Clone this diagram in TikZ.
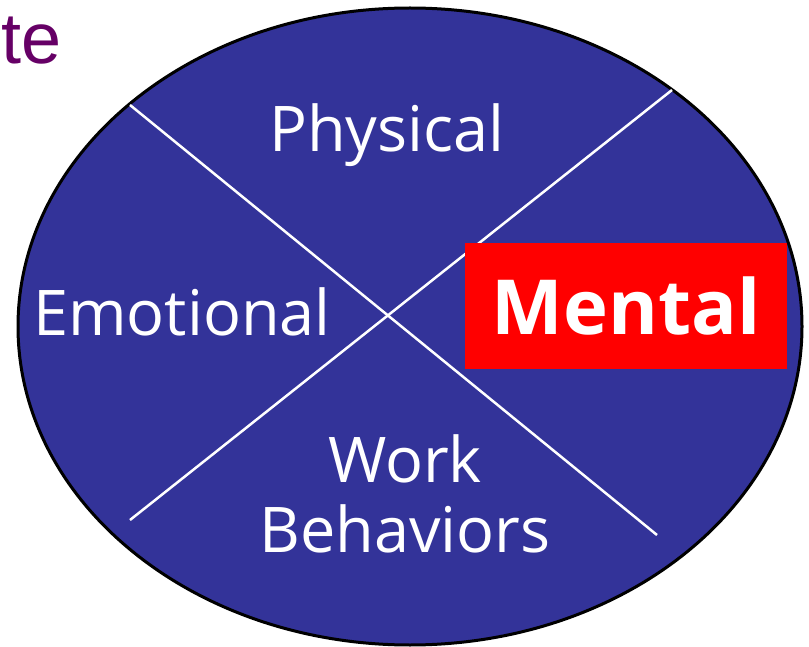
\documentclass[tikz,border=0pt]{standalone}
\usepackage{fontspec}
\setmainfont{Open Sans}
\newfontfamily\titlefont{Liberation Sans}
\usetikzlibrary{calc}
\definecolor{segment}{HTML}{333399}
\definecolor{titlepurple}{HTML}{660066}
\tikzset{
	wheel/.style={fill=segment,draw=black,line width=3pt},%
	divider/.style={white,line width=2.5pt},%
	area/.style={text=white,font=\fontsize{63}{70}\selectfont,align=center,inner sep=0pt},%
	highlight/.style={fill=red,text=white,font=\fontsize{76}{80}\selectfont\bfseries,minimum width=322pt,minimum height=126pt,inner sep=0pt},%
	title/.style={text=titlepurple,font=\titlefont\fontsize{72}{80}\selectfont,inner sep=0pt},%
}
\def\wheelrx{392}
\def\wheelry{318.5}

\begin{document}
\begin{tikzpicture}[x=1pt,y=-1pt]
		\useasboundingbox (0,0) rectangle (809,647);
		\node[title,anchor=base east] (heading) at (62,64) {te};
		\draw[wheel] (410,326.5) ellipse ({\wheelrx} and {\wheelry});
		\coordinate (nw) at (130,105);
		\coordinate (ne) at (672,90);
		\coordinate (sw) at (130,520);
		\coordinate (se) at (657,535);
		\draw[divider] (nw) -- (se);
		\draw[divider] (ne) -- (sw);
		\node[area,anchor=base] (physical) at (387,152) {Physical};
		\node[area,anchor=base] (emotional) at (182,335) {Emotional};
		\node[area,anchor=base] (work) at (405,552) {Work\\Behaviors};
		\node[highlight] (mental) at (626,306) {Mental};
	\end{tikzpicture}
\end{document}
